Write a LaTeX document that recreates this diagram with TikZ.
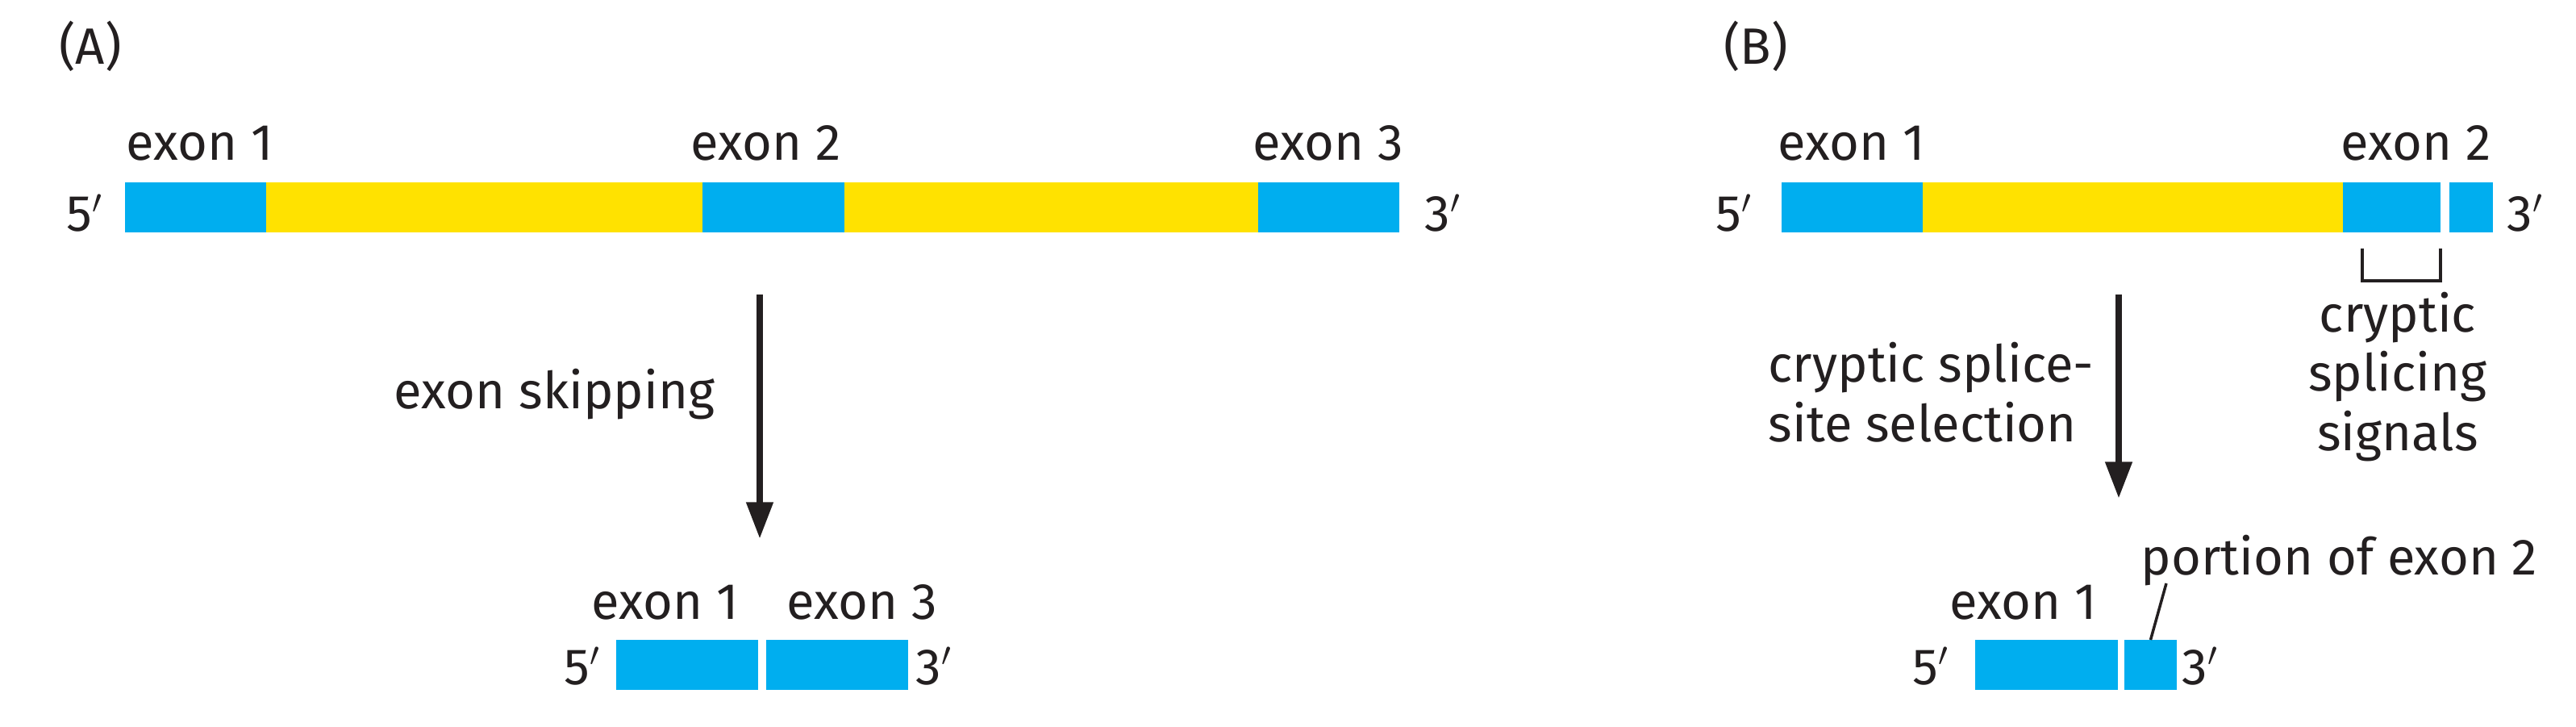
\documentclass[tikz,border=0pt]{standalone}
\usepackage{fontspec}
\setmainfont{Fira Sans}
\usepackage{tikz}
\usetikzlibrary{arrows.meta, calc, positioning}

\definecolor{exonblue}{HTML}{00AEEF}
\definecolor{intronyellow}{HTML}{FFE200}
\definecolor{inkblack}{HTML}{231F20}

\tikzset{
  seg/.style={draw=none, inner sep=0pt, outer sep=0pt, minimum height=0.62cm, anchor=south west},
  exon/.style={seg, fill=exonblue},
  intron/.style={seg, fill=intronyellow},
  lbl/.style={inner sep=0pt, anchor=base, text=inkblack},
  flow/.style={line width=2.5pt, draw=inkblack, -{Triangle[width=9pt,length=13pt]}},
  thin line/.style={line width=1pt, draw=inkblack}
}

\begin{document}
\begin{tikzpicture}[font=\fontsize{18}{20.8}\selectfont]

          \useasboundingbox (0,0) rectangle (31.94,9.00);

          % --- Panel A: pre-mRNA ---
          \node[lbl] (labA) at (1.12,8.20) {(A)};
          \node[exon,   minimum width=1.75cm] (A1)  at (1.55,6.12) {};
          \node[intron, minimum width=5.41cm] (Ai1) at (3.30,6.12) {};
          \node[exon,   minimum width=1.76cm] (A2)  at (8.71,6.12) {};
          \node[intron, minimum width=5.13cm] (Ai2) at (10.47,6.12) {};
          \node[exon,   minimum width=1.75cm] (A3)  at (15.60,6.12) {};
          \node[lbl] (A5p) at (1.05,6.13) {5$'$};
          \node[lbl] (A3p) at (17.89,6.13) {3$'$};
          \node[lbl] (Ae1) at (2.48,7.01) {exon 1};
          \node[lbl] (Ae2) at (9.50,7.01) {exon 2};
          \node[lbl] (Ae3) at (16.47,7.01) {exon 3};

          % --- Panel A: arrow ---
          \coordinate (Atop) at (9.42,5.35);
          \coordinate (Atip) at (9.42,2.32);
          \draw[flow] (Atop) -- (Atip);
          \node[lbl,anchor=base east] (Askip) at (8.87,3.94) {exon skipping};

          % --- Panel A: spliced mRNA ---
          \node[exon, minimum width=1.76cm] (Am1) at (7.64,0.45) {};
          \node[exon, minimum width=1.76cm] (Am3) at (9.50,0.45) {};
          \node[lbl] (Am5p) at (7.22,0.52) {5$'$};
          \node[lbl] (Am3p) at (11.58,0.52) {3$'$};
          \node[lbl] (Ame1) at (8.25,1.33) {exon 1};
          \node[lbl] (Ame3) at (10.69,1.33) {exon 3};

          % --- Panel B: pre-mRNA ---
          \node[lbl] (labB) at (21.77,8.20) {(B)};
          \node[exon,   minimum width=1.75cm] (B1)  at (22.09,6.12) {};
          \node[intron, minimum width=5.21cm] (Bi1) at (23.84,6.12) {};
          \node[exon,   minimum width=1.21cm] (B2a) at (29.05,6.12) {};
          \node[exon,   minimum width=0.54cm] (B2b) at (30.37,6.12) {};
          \node[lbl] (B5p) at (21.50,6.13) {5$'$};
          \node[lbl] (B3p) at (31.31,6.13) {3$'$};
          \node[lbl] (Be1) at (22.96,7.01) {exon 1};
          \node[lbl] (Be2) at (29.96,7.01) {exon 2};

          % bracket under the cryptic signals
          \draw[thin line] (29.29,5.92) -- (29.29,5.52) -- (30.26,5.52) -- (30.26,5.92);
          \node[lbl,align=center] (Bsig) at (29.73,3.42) {cryptic\\splicing\\signals};

          % --- Panel B: arrow ---
          \coordinate (Btop) at (26.27,5.35);
          \coordinate (Btip) at (26.27,2.82);
          \draw[flow] (Btop) -- (Btip);
          \node[lbl,anchor=base west,align=left] (Bsel) at (21.92,3.53) {cryptic splice-\\site selection};

          % --- Panel B: spliced mRNA ---
          \node[exon, minimum width=1.77cm] (Bm1) at (24.49,0.45) {};
          \node[exon, minimum width=0.65cm] (Bm2) at (26.34,0.45) {};
          \node[lbl] (Bm5p) at (23.94,0.52) {5$'$};
          \node[lbl] (Bm3p) at (27.28,0.52) {3$'$};
          \node[lbl] (Bme1) at (25.09,1.33) {exon 1};
          \node[lbl,anchor=base west] (Bpor) at (26.54,1.88) {portion of exon 2};
          \coordinate (Bpor foot) at (26.86,1.77);
          \draw[thin line] (Bpor foot) -- (Bm2.north);

        \end{tikzpicture}
\end{document}
